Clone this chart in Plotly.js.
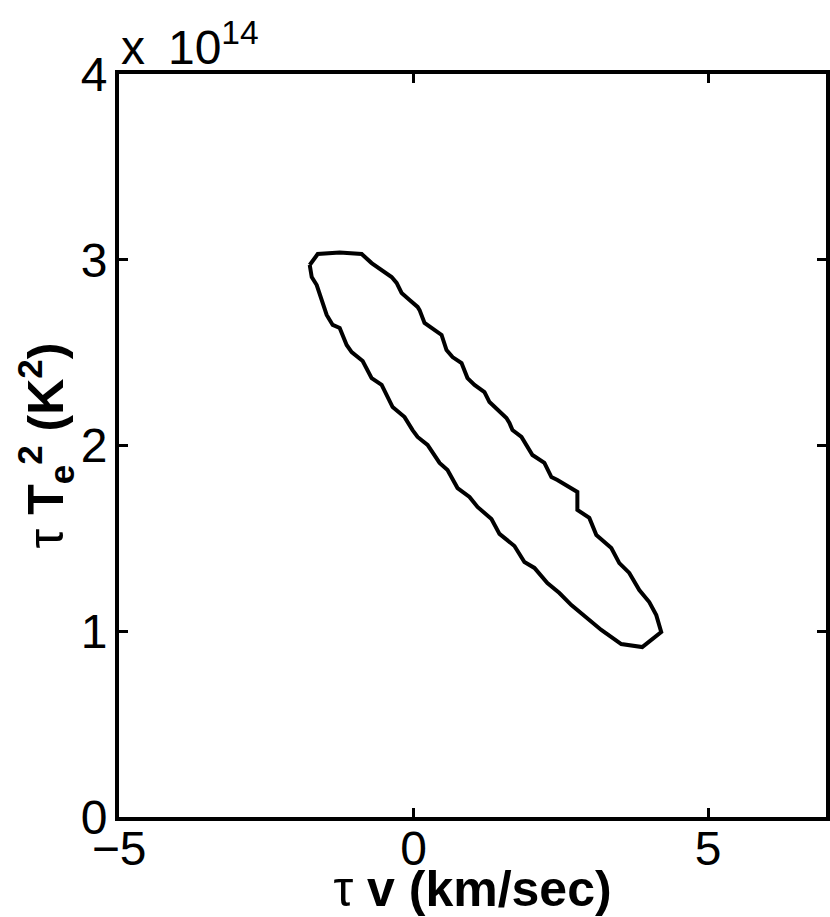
<!DOCTYPE html>
<html>
<head>
<meta charset="utf-8">
<script src="https://cdn.plot.ly/plotly-3.0.1.min.js"></script>
<style>
  body { margin: 0; background: #fff; }
  #plot { width: 830px; height: 917px; }
</style>
</head>
<body>
<div id="plot"></div>
<script>
// confidence contour, traced clockwise from the top-left corner
// tau v in km/sec, tau Te^2 in units of 1e14 K^2
const tauV = [
    -1.763, -1.627, -1.254, -0.881, -0.712, -0.576, -0.373, -0.288, -0.203, -0.068,
    0.068, 0.102, 0.186, 0.305, 0.475, 0.559, 0.661, 0.814, 0.915, 1.034,
    1.203, 1.288, 1.424, 1.576, 1.627, 1.678, 1.831, 2.017, 2.220, 2.339,
    2.441, 2.780, 2.780, 2.983, 3.102, 3.356, 3.492, 3.661, 3.831, 4.000,
    4.119, 4.203, 3.881, 3.525, 3.186, 2.932, 2.678, 2.475, 2.271, 2.051,
    1.881, 1.712, 1.458, 1.322, 1.085, 0.949, 0.746, 0.576, 0.441, 0.237,
    0.068, -0.017, -0.153, -0.356, -0.542, -0.712, -0.864, -1.051, -1.136, -1.254,
    -1.373, -1.475, -1.559, -1.644, -1.729, -1.763
];
const tauTe2 = [
    2.972, 3.031, 3.039, 3.031, 2.982, 2.950, 2.907, 2.875, 2.821, 2.783,
    2.746, 2.729, 2.660, 2.633, 2.595, 2.514, 2.476, 2.444, 2.363, 2.326,
    2.288, 2.234, 2.191, 2.148, 2.121, 2.083, 2.046, 1.949, 1.906, 1.830,
    1.814, 1.750, 1.653, 1.610, 1.518, 1.448, 1.367, 1.314, 1.222, 1.157,
    1.087, 0.996, 0.915, 0.931, 1.007, 1.071, 1.141, 1.206, 1.260, 1.341,
    1.373, 1.459, 1.524, 1.604, 1.669, 1.723, 1.771, 1.868, 1.906, 2.003,
    2.046, 2.083, 2.153, 2.207, 2.326, 2.363, 2.455, 2.503, 2.541, 2.633,
    2.649, 2.703, 2.783, 2.864, 2.907, 2.972
];

const xTicks = [-5, 0, 5];
const yTicks = [0, 1, 2, 3, 4];
const yTickText = ['0', '1', '2', '3', '4'];

const FONT = 'Liberation Sans, Arial, sans-serif';

const contour = {
    type: 'scatter',
    mode: 'lines',
    x: tauV,
    y: tauTe2,
    line: {color: '#000', width: 4},
    hoverinfo: 'skip'
};

const axisStyle = {
    showline: true,
    linecolor: '#000',
    linewidth: 4,
    mirror: 'ticks',
    ticks: 'inside',
    ticklen: 9,
    tickwidth: 3,
    tickcolor: '#000',
    showgrid: false,
    zeroline: false,
    tickfont: {family: FONT, size: 48, color: '#000'}
};

const layout = {
    width: 830,
    height: 917,
    margin: {l: 119, r: 4, t: 74, b: 100},
    paper_bgcolor: '#fff',
    plot_bgcolor: '#fff',
    showlegend: false,
    xaxis: Object.assign({}, axisStyle, {
        range: [-5, 7],
        tickvals: xTicks,
        ticklabelstandoff: -14,
        title: {
            text: 'τ <b>v (km/sec)</b>',
            font: {family: FONT, size: 50, color: '#000'},
            standoff: 4
        }
    }),
    yaxis: Object.assign({}, axisStyle, {
        range: [0, 4],
        tickvals: yTicks,
        ticktext: yTickText,
        ticklabelstandoff: -2,
        title: {
            text: 'τ <b>T<sub>e</sub><sup>2</sup> (K<sup>2</sup>)</b>',
            font: {family: FONT, size: 50, color: '#000'},
            standoff: 2
        }
    }),
    annotations: [{
        xref: 'paper', yref: 'paper',
        x: 0, y: 1,
        xanchor: 'left', yanchor: 'bottom',
        yshift: -2,
        showarrow: false,
        text: 'x\u2009 10<sup>14</sup>',
        font: {family: FONT, size: 48, color: '#000'}
    }]
};

Plotly.newPlot('plot', [contour], layout, {displayModeBar: false, staticPlot: true});
</script>
</body>
</html>
